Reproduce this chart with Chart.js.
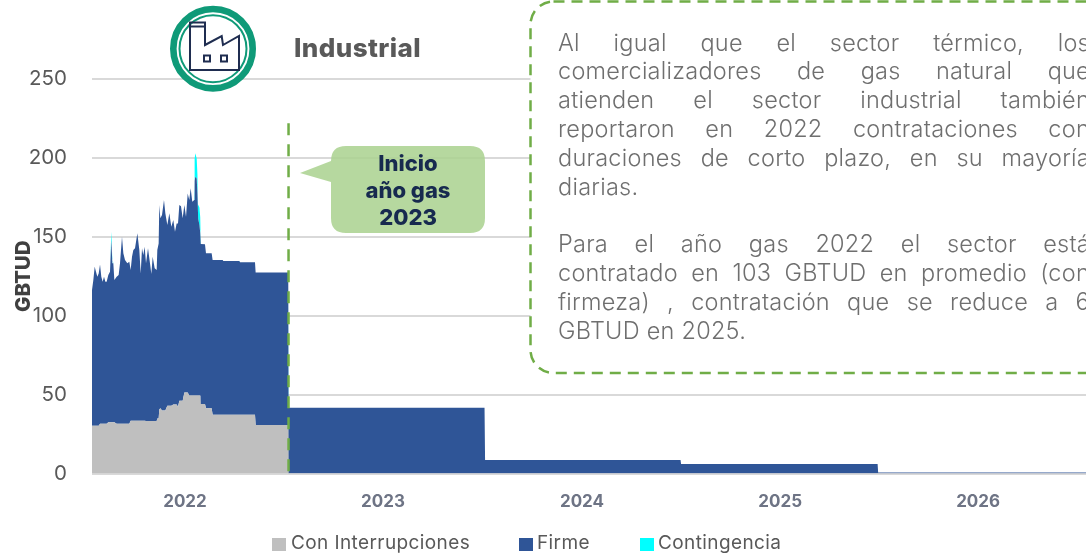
<!DOCTYPE html>
<html><head><meta charset="utf-8">
<script src="https://cdn.jsdelivr.net/npm/chart.js@4"></script>
<style>
html,body{margin:0;padding:0;background:#fff;width:1086px;height:554px;overflow:hidden;font-family:Inter,sans-serif}
#wrap{position:relative;width:1086px;height:554px;overflow:hidden}
canvas{position:absolute;left:0;top:0}
svg{position:absolute;left:0;top:0}
.t{position:absolute;white-space:nowrap}
#title{left:294px;top:31px;font-size:26px;font-weight:800;color:#595959;line-height:34px;letter-spacing:.4px}
.note{left:558px;width:532px;font-size:23.5px;font-weight:300;color:#6f6f6f;line-height:29px;height:29px;letter-spacing:.25px;text-align:justify;text-align-last:justify;white-space:normal}
.note.l{text-align-last:left}
.call{left:331px;width:154px;text-align:center;font-size:22px;font-weight:800;color:#172a4f;line-height:27px}
.lg{top:532px;font-size:19px;color:#595959;line-height:22px;letter-spacing:.4px}
.sw{position:absolute;top:538px;width:14px;height:13px}
</style></head><body>
<div id="wrap">
<canvas id="c" width="1086" height="554"></canvas>
<svg width="1086" height="554" viewBox="0 0 1086 554">
  <circle cx="213" cy="48.7" r="39.7" fill="#fff" stroke="#0f9a78" stroke-width="6.6"/>
  <circle cx="213" cy="48.7" r="33.5" fill="none" stroke="#0f9a78" stroke-width="2"/>
  <g fill="none" stroke="#1f2d50" stroke-width="2">
    <path d="M205 45 L221.7 36 L223 45 L239 36 L239 70 L190 70 L190 22.5 L205 22.5 Z"/>
    <path d="M190 26.5 H205"/>
    <rect x="204" y="55.5" width="6" height="6"/>
    <rect x="221" y="55.5" width="6" height="6"/>
  </g>
  <rect x="530.5" y="1.5" width="700" height="371.5" rx="23" fill="#fff" stroke="#70ad47" stroke-width="2.5" stroke-dasharray="11 7"/>
  <path d="M300 173 L331 161 Q331 146 346 146 H470 Q485 146 485 161 V218 Q485 233 470 233 H346 Q331 233 331 218 V182 Z" fill="rgba(169,209,142,.85)"/>
</svg>
<div class="t" id="title">Industrial</div>
<div class="t call" style="top:150px">Inicio</div>
<div class="t call" style="top:177px">año gas</div>
<div class="t call" style="top:204px">2023</div>
<div class="t note" style="top:28px">Al igual que el sector térmico, los</div>
<div class="t note" style="top:56px">comercializadores de gas natural que</div>
<div class="t note" style="top:85px">atienden el sector industrial también</div>
<div class="t note" style="top:114px">reportaron en 2022 contrataciones con</div>
<div class="t note" style="top:143px">duraciones de corto plazo, en su mayoría</div>
<div class="t note l" style="top:172px">diarias.</div>
<div class="t note" style="top:229px">Para el año gas 2022 el sector está</div>
<div class="t note" style="top:258px">contratado en 103 GBTUD en promedio (con</div>
<div class="t note" style="top:287px">firmeza) , contratación que se reduce a 6</div>
<div class="t note l" style="top:316px">GBTUD en 2025.</div>
<div id="legend"></div>
</div>
<script>
const seriesNames = ['Con Interrupciones', 'Firme', 'Contingencia'];
const seriesColors = ['#bfbfbf', '#2f5597', '#00ffff'];
const yearLabels = ['2022', '2023', '2024', '2025', '2026'];
const yearTickDays = [172.7, 540.5, 910, 1278, 1645.6];
const yTicks = [0, 50, 100, 150, 200, 250];
const days = [0,2.5,5,7.4,9.9,12.4,14.9,17.3,19.8,22.3,24.8,27.2,30.3,33.4,35.9,37.8,38.8,39.6,41.5,45.8,49.5,52,55.7,58.2,61.3,65.6,69.3,71.8,74.3,76.8,79.9,84.2,87.9,90.4,92.9,95.3,97.8,100.3,104,107.7,110.2,112.7,116.4,120.1,121.3,123.8,125,126.9,130,133.7,136.2,139.9,143.6,147.3,151,154.1,157.2,159.7,162.2,165.3,168.4,171.5,174.6,177.7,180.7,183.2,186.3,189.8,190.6,191.9,194.4,195.8,196.6,197.2,199.5,201,201.5,202.4,209.8,211.7,222.2,224,242.6,243.9,273.6,274.8,302.7,303.9,364.5,365,729,730,1093,1094,1459,1460,1846];
const conInterrupciones = [30.3,30.3,30.3,30.3,30.3,30.3,31.5,31.5,31.5,31.5,31.5,31.5,32.4,32.4,32.4,32.4,32.4,32.4,32.4,31.5,31.5,31.5,31.5,31.5,31.5,31.5,31.5,33.4,33.4,33.4,33.4,33.4,33.4,33.4,33.4,33.4,33.4,33.2,33.2,33.2,33.2,33.2,33.2,33.2,34.9,34.9,40.6,41.3,40,40,40,42.9,42.9,42.9,43.8,43.8,43.8,42.3,46.1,46.1,46.1,51.4,51.4,51.4,49.5,49.5,49.5,49.5,49.5,49.5,49.5,49.5,49.5,49.5,49.5,49.5,49.5,44,44,41.3,41.3,37.2,37.2,37.2,37.2,37.2,37.2,30.7,30.7,0,0,0,0,0,0,0,0];
const firme = [86,92.3,100.7,97.6,94.4,96.5,101,93.2,90,93.2,90,90,93.4,95.5,115.5,100.8,100.8,100.8,90.2,93.2,94.3,101.7,118.6,108,103.8,101.7,102.7,95.5,104,108.2,109.3,118.8,108.2,93.4,109.3,105,110.3,100,109.5,100,93.2,104.2,96.8,95.7,106.7,110.9,129.5,120.4,123.8,133.3,124.9,114.5,122,113.5,116.8,109.4,114.7,116.2,124,123.2,115.6,118.7,111.3,126.1,123.8,131.2,122.7,123.8,136,138.6,137.5,128,118.5,112,107.9,103,101.1,101.4,101.2,98.2,98.2,98.1,98.1,97.4,97.4,96.6,96.6,96.7,96.7,41.7,41.7,8.5,8.5,6,6,0.7,0.7];
const contingencia = [
  0,0,0,0,0,0,0,0,0,0,0,0,0,0,
  5.3,3.1,3.1,0,
  0,0,0,0,0,0,0,0,0,0,
  0,0,0,0,0,0,0,0,0,0,
  0,0,0,0,0,0,0,0,0,0,
  0,0,0,0,0,0,0,0,0,0,
  0,0,0,0,0,0,0,0,0,0,
  14,14.8,12.6,12,0,9,11.2,10,0,
  0,0,0,0,0,0,0,0,0,0,
  0,0,0,0,0,0,0,0,0,0
];
const seriesValues = [conInterrupciones, firme, contingencia];
const gasYearStartDay = 365;
const gasLineTop = 222;

const startLine = {
  id: 'startLine',
  afterDatasetsDraw(chart) {
    const { ctx, scales: { x, y } } = chart;
    const px = x.getPixelForValue(gasYearStartDay);
    ctx.save();
    ctx.strokeStyle = '#70ad47';
    ctx.lineWidth = 2.5;
    ctx.setLineDash([12, 9]);
    ctx.beginPath();
    ctx.moveTo(px, y.getPixelForValue(gasLineTop));
    ctx.lineTo(px, y.bottom + 3);
    ctx.stroke();
    ctx.restore();
  }
};

new Chart(document.getElementById('c'), {
  type: 'line',
  data: {
    datasets: seriesNames.map((name, s) => ({
      label: name,
      data: days.map((d, i) => ({ x: d, y: seriesValues[s][i] })),
      backgroundColor: seriesColors[s],
      borderWidth: 0,
      pointRadius: 0,
      tension: 0,
      fill: s === 0 ? 'origin' : '-1'
    }))
  },
  options: {
    responsive: false,
    animation: false,
    layout: { padding: { top: 79, left: 0, right: 0, bottom: 0 } },
    plugins: { legend: { display: false }, tooltip: { enabled: false } },
    scales: {
      x: {
        type: 'linear', min: 0, max: 1846,
        grid: { display: false },
        border: { display: false },
        afterFit(s) { s.height = 80.5; },
        afterBuildTicks(s) { s.ticks = yearTickDays.map(v => ({ value: v })); },
        ticks: {
          autoSkip: false, maxRotation: 0, padding: 10,
          color: '#6e7485',
          font: { family: 'Inter', size: 17, weight: '700' },
          callback: (v, i) => yearLabels[i]
        }
      },
      y: {
        stacked: true, min: 0, max: 250,
        afterFit(s) { s.width = 92; },
        afterBuildTicks(s) { s.ticks = yTicks.map(v => ({ value: v })); },
        grid: { color: '#d9d9d9', lineWidth: 2, drawTicks: false },
        border: { display: false },
        title: {
          display: true, text: 'GBTUD', color: '#404040',
          font: { family: 'Inter', size: 20.5, weight: '800' },
          padding: { top: 12, bottom: 0 }
        },
        ticks: {
          padding: 25, color: '#595959',
          font: { family: 'Inter', size: 20.5, weight: '400' }
        }
      }
    }
  },
  plugins: [startLine]
});

const legendPos = [[272, 291], [519, 537], [640, 658]];
const lg = document.getElementById('legend');
seriesNames.forEach((n, i) => {
  const sw = document.createElement('div');
  sw.className = 'sw';
  sw.style.left = legendPos[i][0] + 'px';
  sw.style.background = seriesColors[i];
  const t = document.createElement('div');
  t.className = 't lg';
  t.style.left = legendPos[i][1] + 'px';
  t.textContent = n;
  lg.append(sw, t);
});
</script>
</body></html>
